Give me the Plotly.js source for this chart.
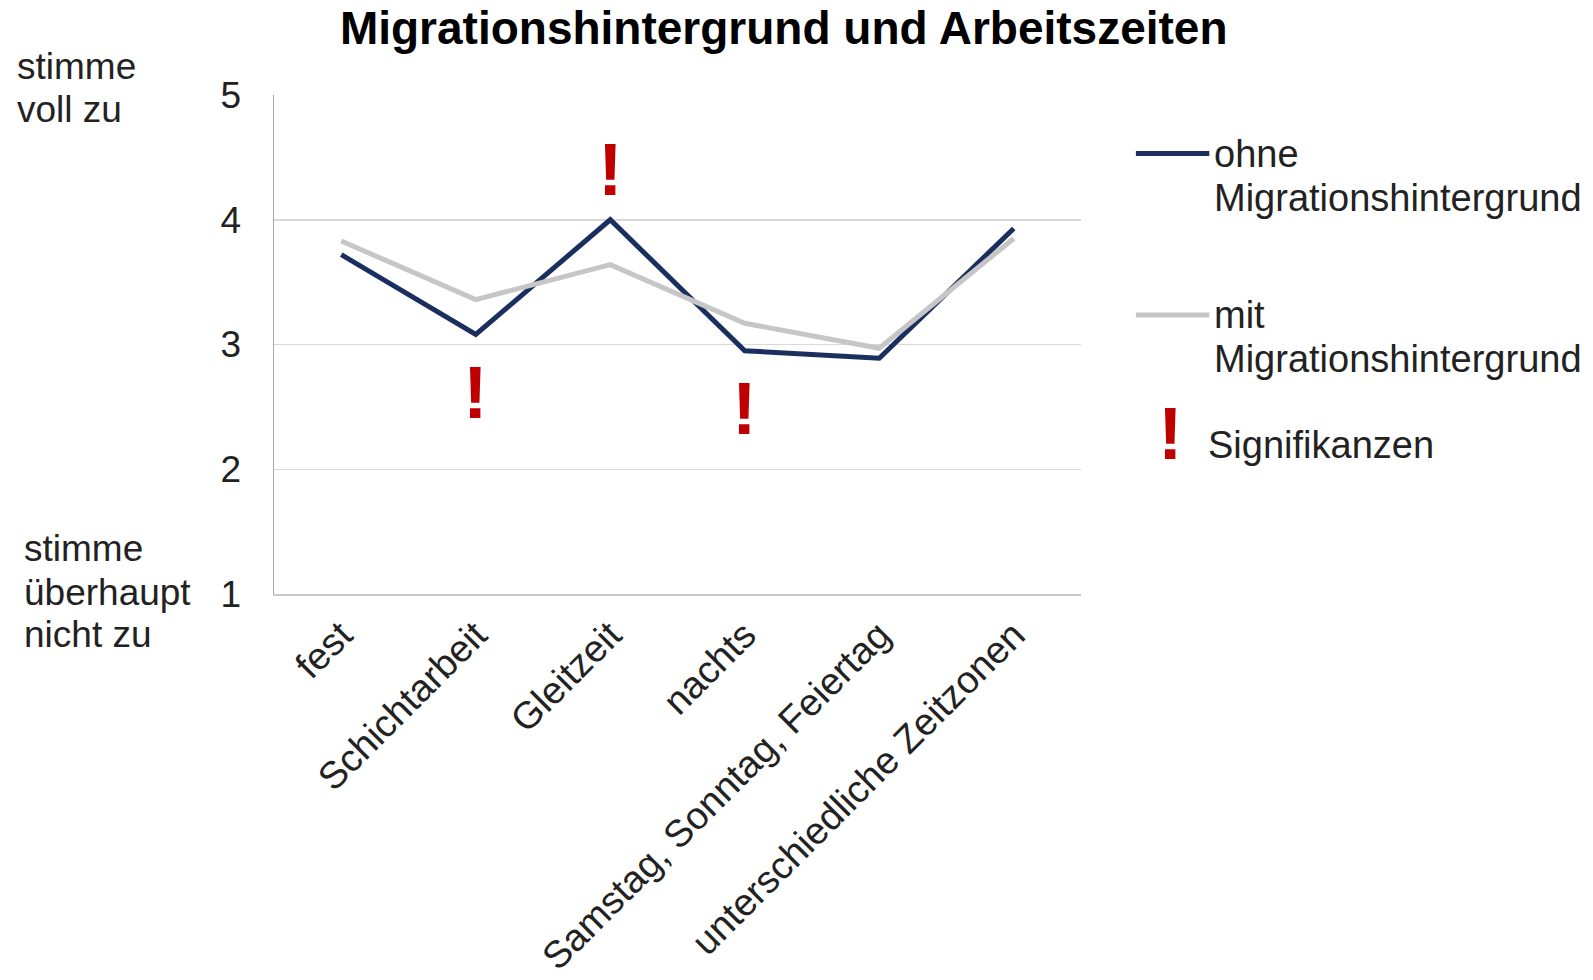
<!DOCTYPE html>
<html>
<head>
<meta charset="utf-8">
<script src="https://cdn.plot.ly/plotly-3.0.1.min.js"></script>
<style>html,body{margin:0;padding:0;background:#fff;}#chart{width:1593px;height:980px;}</style>
</head>
<body>
<div id="chart"></div>
<script>
// ---- data ----
const kategorien = ["fest", "Schichtarbeit", "Gleitzeit", "nachts", "Samstag, Sonntag, Feiertag", "unterschiedliche Zeitzonen"];
const ohneMigration = [3.72, 3.08, 4.00, 2.95, 2.89, 3.93];
const mitMigration = [3.83, 3.36, 3.64, 3.17, 2.97, 3.85];
const signifikant = [false, true, true, true, false, false];
const yTicks = [1, 2, 3, 4, 5];
const serienNamen = [["ohne", "Migrationshintergrund"], ["mit", "Migrationshintergrund"]];
const skalaOben = ["stimme", "voll zu"];
const skalaUnten = ["stimme", "überhaupt", "nicht zu"];
const titel = "Migrationshintergrund und Arbeitszeiten";
const signifikanzLabel = "Signifikanzen";

// ---- styles ----
const FONT = "Liberation Sans, Arial, sans-serif";
const NAVY = "#1b2f5e";
const GRAY = "#c6c6c6";
const RED = "#c00000";
const TXT = "#222222";

const traces = [
  {x: kategorien, y: ohneMigration, type: "scatter", mode: "lines", name: serienNamen[0].join(" "),
   line: {color: NAVY, width: 5}, showlegend: false, hoverinfo: "x+y"},
  {x: kategorien, y: mitMigration, type: "scatter", mode: "lines", name: serienNamen[1].join(" "),
   line: {color: GRAY, width: 5}, showlegend: false, hoverinfo: "x+y"}
];

const annotations = [];
// significance marks, placed relative to the data point
kategorien.forEach((k, i) => {
  if (!signifikant[i]) return;
  const oben = ohneMigration[i] > mitMigration[i];
  annotations.push({
    x: k, y: ohneMigration[i], xref: "x", yref: "y",
    text: "<b>!</b>", showarrow: false,
    font: {family: FONT, size: 74, color: RED},
    xanchor: "center", yanchor: "middle",
    yshift: oben ? 50 : -58
  });
});

function textLines(lines, x, ys, size) {
  lines.forEach((t, j) => annotations.push({
    xref: "paper", yref: "paper", x: x, y: ys[j], text: t,
    showarrow: false, xanchor: "left", yanchor: "middle", align: "left",
    font: {family: FONT, size: size, color: TXT}
  }));
}

// scale end labels
textLines(skalaOben, -0.321, [1.057, 0.970], 37);
textLines(skalaUnten, -0.312, [0.0914, 0.0040, -0.0815], 37);

// custom legend
textLines(serienNamen[0], 1.162, [0.882, 0.793], 38);
textLines(serienNamen[1], 1.162, [0.559, 0.4716], 38);
annotations.push({xref: "paper", yref: "paper", x: 1.111, y: 0.322, text: "<b>!</b>",
  showarrow: false, xanchor: "center", yanchor: "middle",
  font: {family: FONT, size: 74, color: RED}});
textLines([signifikanzLabel], 1.155, [0.299], 38);

const shapes = [
  {type: "line", xref: "paper", yref: "paper", x0: 1.068, x1: 1.159, y0: 0.883, y1: 0.883,
   line: {color: NAVY, width: 5}},
  {type: "line", xref: "paper", yref: "paper", x0: 1.068, x1: 1.159, y0: 0.559, y1: 0.559,
   line: {color: GRAY, width: 5}}
];

const layout = {
  width: 1593, height: 980,
  margin: {l: 274, r: 512, t: 94.5, b: 385.7, pad: 0},
  paper_bgcolor: "#ffffff", plot_bgcolor: "#ffffff",
  font: {family: FONT, color: TXT},
  title: {text: "<b>" + titel + "</b>", x: 0.492, xanchor: "center", y: 0.972, yanchor: "middle",
          font: {family: FONT, size: 46, color: "#000000"}},
  xaxis: {
    type: "category", range: [-0.5, 5.5], tickangle: -45,
    showgrid: false, showline: true, linecolor: "#c8c8c8", linewidth: 1.5,
    ticks: "", tickfont: {family: FONT, size: 38, color: TXT}, ticklabelstandoff: 2,
    fixedrange: true
  },
  yaxis: {
    range: [1, 5], tickvals: yTicks, ticktext: yTicks.map(String),
    showgrid: true, gridcolor: "#d9d9d9", gridwidth: 1.5,
    showline: true, linecolor: "#a6a6a6", linewidth: 1.5, zeroline: false,
    ticks: "", tickfont: {family: FONT, size: 37, color: TXT}, ticklabelstandoff: 24,
    fixedrange: true
  },
  showlegend: false,
  annotations: annotations,
  shapes: shapes
};

Plotly.newPlot("chart", traces, layout, {displayModeBar: false, staticPlot: true});
</script>
</body>
</html>
